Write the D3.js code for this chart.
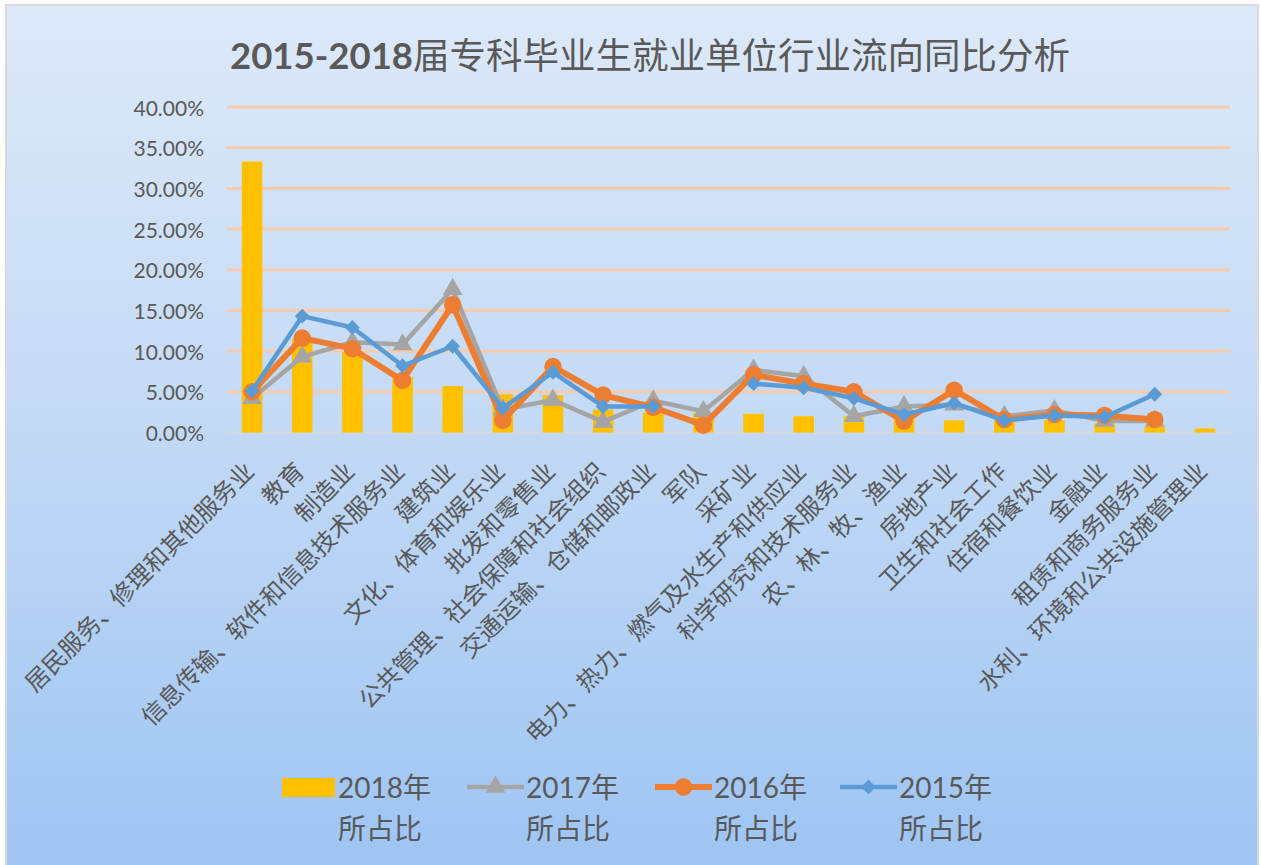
<!DOCTYPE html>
<html>
<head>
<meta charset="utf-8">
<script src="https://cdn.jsdelivr.net/npm/d3@7"></script>
<style>
  body { margin: 0; background: #fff; }
  text { fill: #595959; }
</style>
</head>
<body>
<svg id="chart" width="1261" height="865"></svg>
<script>
// 行业类别
const categories = [
    '居民服务、修理和其他服务业', '教育', '制造业', '信息传输、软件和信息技术服务业',
    '建筑业', '文化、体育和娱乐业', '批发和零售业', '公共管理、社会保障和社会组织',
    '交通运输、仓储和邮政业', '军队', '采矿业', '电力、热力、燃气及水生产和供应业',
    '科学研究和技术服务业', '农、林、牧、渔业', '房地产业', '卫生和社会工作',
    '住宿和餐饮业', '金融业', '租赁和商务服务业', '水利、环境和公共设施管理业'
];
// 各年所占比 (%)
const v2018 = [33.3, 11.5, 9.9, 6.8, 5.7, 4.7, 4.6, 2.8, 2.4, 2.4, 2.3, 2.0, 2.0, 2.0, 1.5, 1.5, 1.5, 1.1, 0.7, 0.5];
const v2017 = [4.2, 9.3, 11.1, 10.8, 17.6, 2.8, 4.0, 1.3, 3.9, 2.6, 7.7, 6.9, 2.0, 3.2, 3.4, 2.0, 2.7, 1.4, 1.4, null];
const v2016 = [5.0, 11.6, 10.3, 6.4, 15.7, 1.5, 8.1, 4.6, 3.1, 0.9, 7.1, 6.0, 5.0, 1.4, 5.2, 1.6, 2.2, 2.1, 1.6, null];
const v2015 = [5.1, 14.3, 12.9, 8.2, 10.6, 3.0, 7.4, 3.2, 3.2, null, 6.0, 5.5, 4.2, 2.2, 3.6, 1.5, 2.1, 1.9, 4.7, null];
const yTicks = [0, 5, 10, 15, 20, 25, 30, 35, 40];
const legendLabels = ['2018年', '2017年', '2016年', '2015年'];

const fontCJK = "Lato, 'Noto Sans CJK SC', sans-serif";
const svg = d3.select('#chart');

// 背景渐变
const defs = svg.append('defs');
const grad = defs.append('linearGradient').attr('id', 'bg')
    .attr('x1', 0).attr('y1', 0).attr('x2', 0).attr('y2', 1);
grad.append('stop').attr('offset', '0%').attr('stop-color', '#dde9f9');
grad.append('stop').attr('offset', '50%').attr('stop-color', '#c2d9f5');
grad.append('stop').attr('offset', '100%').attr('stop-color', '#9ec4f3');

svg.append('rect')
    .attr('x', 6).attr('y', 5).attr('width', 1252).attr('height', 864)
    .attr('fill', 'url(#bg)').attr('stroke', '#d9d9d9').attr('stroke-width', 2);

// 标题
const title = svg.append('text')
    .attr('x', 650).attr('y', 55)
    .attr('text-anchor', 'middle').attr('dominant-baseline', 'central')
    .style('font-family', fontCJK).style('font-size', '36.5px');
title.append('tspan').attr('font-weight', 'bold').text('2015-2018');
title.append('tspan').text('届专科毕业生就业单位行业流向同比分析');

// 比例尺
const x = d3.scaleBand().domain(categories).range([227, 1230]).padding(0);
const cx = d => x(d) + x.bandwidth() / 2;
const y = d3.scaleLinear().domain([0, 40]).range([432.5, 107]);

// 网格线
svg.append('g').selectAll('line')
    .data(yTicks.filter(t => t > 0))
    .join('line')
    .attr('x1', 227).attr('x2', 1230)
    .attr('y1', d => y(d)).attr('y2', d => y(d))
    .attr('stroke', '#f8cbad').attr('stroke-width', 3);

svg.append('line')
    .attr('x1', 227).attr('x2', 1230)
    .attr('y1', y(0)).attr('y2', y(0))
    .attr('stroke', '#d9d9d9').attr('stroke-width', 2);

// Y轴刻度
svg.append('g').selectAll('text')
    .data(yTicks)
    .join('text')
    .attr('x', 204).attr('y', d => y(d))
    .attr('text-anchor', 'end').attr('dominant-baseline', 'central')
    .style('font-family', fontCJK).style('font-size', '21px')
    .text(d => d3.format('.2f')(d) + '%');

// 柱形 2018
const barW = x.bandwidth() * 0.41;
svg.append('g').selectAll('rect')
    .data(categories)
    .join('rect')
    .attr('x', d => cx(d) - barW / 2)
    .attr('y', (d, i) => y(v2018[i]))
    .attr('width', barW)
    .attr('height', (d, i) => y(0) - y(v2018[i]))
    .attr('fill', '#ffc000');

// 折线
const line = d3.line()
    .defined(d => d.v != null)
    .x(d => cx(d.c)).y(d => y(d.v));

const symbols = {
    tri: d3.symbol().type(d3.symbolTriangle).size(170),
    circ: d3.symbol().type(d3.symbolCircle).size(240),
    dia: d3.symbol().type(d3.symbolSquare).size(110)
};

const series = [
    { vals: v2017, color: '#a5a5a5', width: 4.5, sym: symbols.tri, rot: 0 },
    { vals: v2016, color: '#ed7d31', width: 6, sym: symbols.circ, rot: 0 },
    { vals: v2015, color: '#5b9bd5', width: 4.5, sym: symbols.dia, rot: 45 }
];

series.forEach(s => {
    const pts = categories.map((c, i) => ({ c: c, v: s.vals[i] }));
    svg.append('path')
        .datum(pts)
        .attr('d', line)
        .attr('fill', 'none')
        .attr('stroke', s.color)
        .attr('stroke-width', s.width)
        .attr('stroke-linejoin', 'round');
    svg.append('g').selectAll('path')
        .data(pts.filter(p => p.v != null))
        .join('path')
        .attr('d', s.sym())
        .attr('transform', p => `translate(${cx(p.c)},${y(p.v)}) rotate(${s.rot})`)
        .attr('fill', s.color);
});

// X轴标签 (旋转 -45°)
svg.append('g').selectAll('text')
    .data(categories)
    .join('text')
    .attr('transform', d => `translate(${cx(d) - 3},466) rotate(-45)`)
    .attr('text-anchor', 'end').attr('dominant-baseline', 'central')
    .style('font-family', fontCJK).style('font-size', '24px')
    .text(d => d);

// 图例
const legendX = [282, 467, 655, 840];
const legend = svg.append('g');
legendLabels.forEach((lab, i) => {
    const g = legend.append('g').attr('transform', `translate(${legendX[i]},0)`);
    if (i === 0) {
        g.append('rect').attr('x', 0).attr('y', 778).attr('width', 53).attr('height', 19)
            .attr('fill', '#ffc000');
    } else {
        const s = series[i - 1];
        g.append('line').attr('x1', 0).attr('x2', 57).attr('y1', 787).attr('y2', 787)
            .attr('stroke', s.color).attr('stroke-width', s.width);
        g.append('path').attr('d', s.sym())
            .attr('transform', `translate(28.5,787) rotate(${s.rot})`)
            .attr('fill', s.color);
    }
    const tx = i === 0 ? 56 : 59;
    g.append('text').attr('x', tx).attr('y', 787)
        .attr('dominant-baseline', 'central')
        .style('font-family', fontCJK).style('font-size', '28px')
        .text(lab);
    g.append('text').attr('x', tx).attr('y', 828)
        .attr('dominant-baseline', 'central')
        .style('font-family', fontCJK).style('font-size', '28px')
        .text('所占比');
});
</script>
</body>
</html>
